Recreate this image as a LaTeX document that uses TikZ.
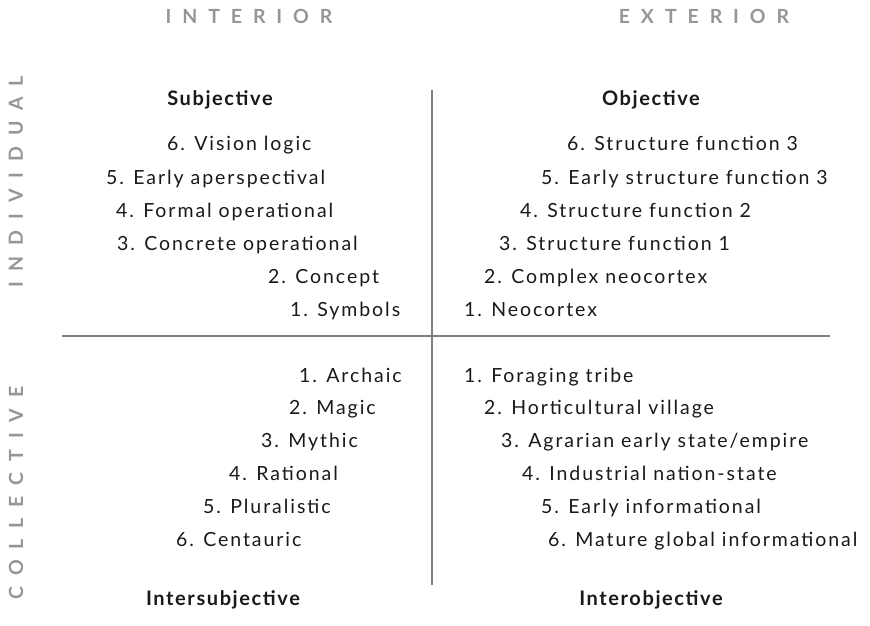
\documentclass[tikz,border=0pt]{standalone}
\usepackage{fontspec}
\setmainfont{Lato}
\newfontfamily\bodyfont[LetterSpace=10]{Lato}
\newfontfamily\titlefont[LetterSpace=8]{Lato}
\newfontfamily\spacedfont[LetterSpace=56]{Lato}
\definecolor{axisgray}{HTML}{969696}
\definecolor{rulegray}{HTML}{808080}
\begin{document}
\begin{tikzpicture}[x=1pt,y=-1pt,
  item/.style={anchor=base west,inner sep=0pt,font=\fontsize{19.5}{22}\bodyfont,text=black!90},
  quad/.style={anchor=base,inner sep=0pt,font=\fontsize{20}{23}\titlefont\bfseries,text=black!90},
  axis/.style={inner sep=0pt,font=\fontsize{19.5}{22}\spacedfont\bfseries,text=axisgray},
  divider/.style={draw=rulegray,line width=1.3pt}]
\useasboundingbox (0,0) rectangle (870,625);
% quadrant dividers
\coordinate (vtop) at (432,90);
\coordinate (vbot) at (432,585);
\coordinate (hleft) at (62,336);
\coordinate (hright) at (830,336);
\draw[divider] (vtop) -- (vbot);
\draw[divider] (hleft) -- (hright);
% axis headings
\node[axis] (interior) at (249,16) {INTERIOR};
\node[axis] (exterior) at (704,16) {EXTERIOR};
\node[axis,rotate=90] (individual) at (16,182) {INDIVIDUAL};
\node[axis,rotate=90] (collective) at (16,493) {COLLECTIVE};
% quadrant titles
\node[quad] (subj) at (220,105) {Subjective};
\node[quad] (obj) at (651,105) {Objective};
\node[quad] (intersubj) at (223,605) {Intersubjective};
\node[quad] (interobj) at (651,605) {Interobjective};
% upper left
\node[item] (ul6) at (167,150) {6. Vision logic};
\node[item] (ul5) at (106,184) {5. Early aperspectival};
\node[item] (ul4) at (116,217) {4. Formal operational};
\node[item] (ul3) at (117,250) {3. Concrete operational};
\node[item] (ul2) at (268,283) {2. Concept};
\node[item] (ul1) at (290,316) {1. Symbols};
% upper right
\node[item] (ur6) at (567,150) {6. Structure function 3};
\node[item] (ur5) at (541,184) {5. Early structure function 3};
\node[item] (ur4) at (520,217) {4. Structure function 2};
\node[item] (ur3) at (499,250) {3. Structure function 1};
\node[item] (ur2) at (484,283) {2. Complex neocortex};
\node[item] (ur1) at (464,316) {1. Neocortex};
% lower left
\node[item] (ll1) at (299,382) {1. Archaic};
\node[item] (ll2) at (289,414) {2. Magic};
\node[item] (ll3) at (261,447) {3. Mythic};
\node[item] (ll4) at (229,480) {4. Rational};
\node[item] (ll5) at (203,513) {5. Pluralistic};
\node[item] (ll6) at (176,546) {6. Centauric};
% lower right
\node[item] (lr1) at (464,382) {1. Foraging tribe};
\node[item] (lr2) at (484,414) {2. Horticultural village};
\node[item] (lr3) at (501,447) {3. Agrarian early state/empire};
\node[item] (lr4) at (522,480) {4. Industrial nation-state};
\node[item] (lr5) at (541,513) {5. Early informational};
\node[item] (lr6) at (548,546) {6. Mature global informational};
\end{tikzpicture}
\end{document}
